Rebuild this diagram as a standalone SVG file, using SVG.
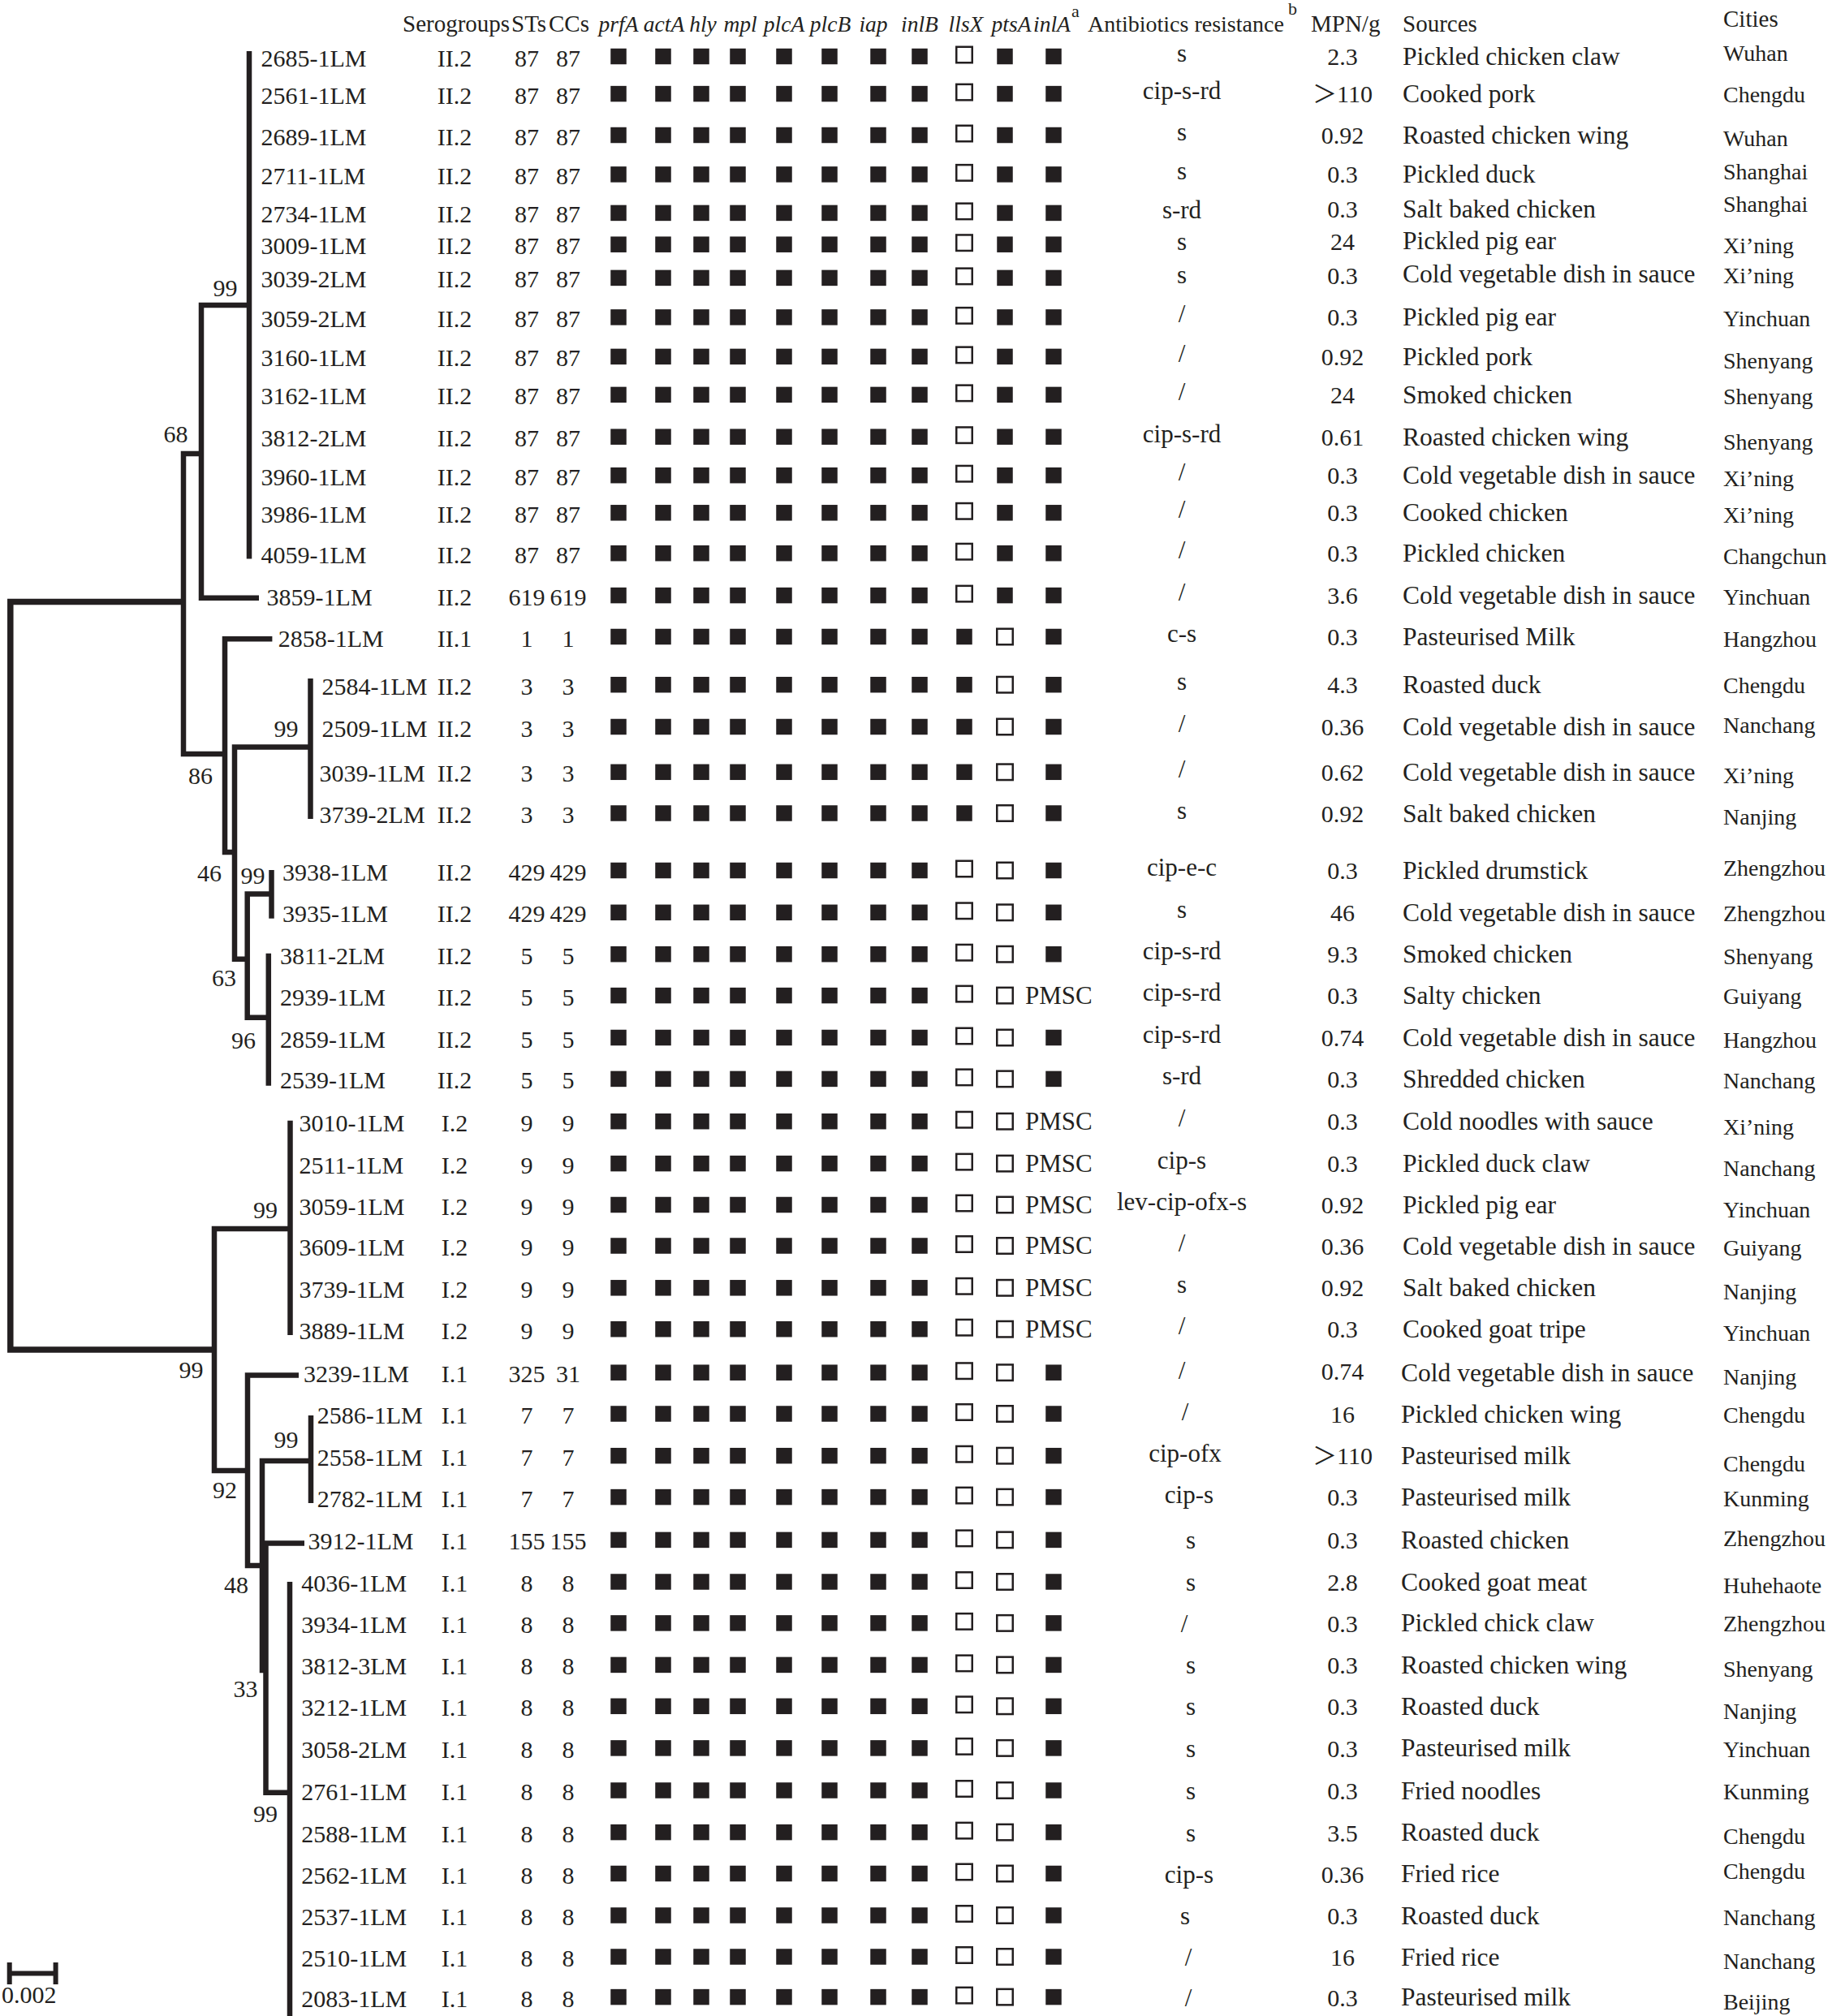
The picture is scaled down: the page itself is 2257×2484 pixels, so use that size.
<svg xmlns="http://www.w3.org/2000/svg" xmlns:xlink="http://www.w3.org/1999/xlink" width="2257" height="2484" viewBox="0 0 2257 2484">
<style>
text{font-family:"Liberation Serif","Times New Roman",serif;fill:#231f20;font-size:30px}
.m{text-anchor:middle}
.h{font-size:29px}
.gi{font-size:27.5px;font-style:italic;text-anchor:middle}
.sup{font-size:22px}
.src{font-size:31.5px}
.res{font-size:31px;text-anchor:middle}
.ct{font-size:28px}
.gt{font-family:"Liberation Serif","Noto Sans CJK SC",serif}
.br{fill:none;stroke:#231f20;stroke-width:6.5;stroke-linecap:butt;stroke-linejoin:miter}
.f{fill:#231f20}
.o{fill:none;stroke:#231f20;stroke-width:2.5}
</style>
<defs>
<g id="g8">
<rect class="f" x="752.25" y="-11.75" width="19.5" height="19.5"/>
<rect class="f" x="807.25" y="-11.75" width="19.5" height="19.5"/>
<rect class="f" x="854.25" y="-11.75" width="19.5" height="19.5"/>
<rect class="f" x="899.25" y="-11.75" width="19.5" height="19.5"/>
<rect class="f" x="956.25" y="-11.75" width="19.5" height="19.5"/>
<rect class="f" x="1012.25" y="-11.75" width="19.5" height="19.5"/>
<rect class="f" x="1072.25" y="-11.75" width="19.5" height="19.5"/>
<rect class="f" x="1123.25" y="-11.75" width="19.5" height="19.5"/>
</g>
<g id="pA"><use href="#g8"/><rect class="o" x="1178.25" y="-13.75" width="19.5" height="19.5"/><rect class="f" x="1228.25" y="-11.75" width="19.5" height="19.5"/><rect class="f" x="1288.25" y="-11.75" width="19.5" height="19.5"/></g>
<g id="pB"><use href="#g8"/><rect class="f" x="1178.25" y="-11.75" width="19.5" height="19.5"/><rect class="o" x="1228.25" y="-11.75" width="19.5" height="19.5"/><rect class="f" x="1288.25" y="-11.75" width="19.5" height="19.5"/></g>
<g id="pC"><use href="#g8"/><rect class="o" x="1178.25" y="-13.75" width="19.5" height="19.5"/><rect class="o" x="1228.25" y="-11.75" width="19.5" height="19.5"/><rect class="f" x="1288.25" y="-11.75" width="19.5" height="19.5"/></g>
<g id="pD"><use href="#g8"/><rect class="o" x="1178.25" y="-13.75" width="19.5" height="19.5"/><rect class="o" x="1228.25" y="-11.75" width="19.5" height="19.5"/><text x="1263" y="8" style="font-size:31px">PMSC</text></g>
</defs>
<rect width="2257" height="2484" fill="#ffffff"/>

<g id="header">
<text class="h" x="496" y="39">Serogroups</text>
<text class="h" x="630" y="39">STs</text>
<text class="h" x="676" y="39">CCs</text>
<text class="gi" x="762" y="39">prfA</text>
<text class="gi" x="818" y="39">actA</text>
<text class="gi" x="866" y="39">hly</text>
<text class="gi" x="912" y="39">mpl</text>
<text class="gi" x="966" y="39">plcA</text>
<text class="gi" x="1023" y="39">plcB</text>
<text class="gi" x="1076" y="39">iap</text>
<text class="gi" x="1133" y="39">inlB</text>
<text class="gi" x="1190" y="39">llsX</text>
<text class="gi" x="1246" y="39">ptsA</text>
<text class="gi" x="1296" y="39">inlA</text>
<text class="sup" x="1320" y="21">a</text>
<text class="h" x="1340" y="39" style="font-size:28px">Antibiotics resistance</text>
<text class="sup" x="1587" y="18">b</text>
<text class="h" x="1615" y="39">MPN/g</text>
<text class="h" x="1728" y="39">Sources</text>
<text class="h" x="2123" y="33">Cities</text>
</g>

<g id="connectors">
<path class="br" d="M226 741.5 H12.8 V1663 H264" style="stroke-width:7.5"/>
<path class="br" d="M248 559 H226 V929 H277"/>
<path class="br" d="M307 376 H248 V736.7 H319"/>
<path class="br" d="M307 63 V688.6"/>
<path class="br" d="M335.4 787.3 H277 V1050 H289"/>
<path class="br" d="M382.5 920.5 H289 V1181.8 H304.7"/>
<path class="br" d="M382.5 836 V1009"/>
<path class="br" d="M334.5 1101.6 H304.7 V1253.8 H330.8"/>
<path class="br" d="M334.5 1072 V1131.7"/>
<path class="br" d="M330.8 1174.8 V1337.7"/>
<path class="br" d="M357.5 1514 H264 V1812 H305"/>
<path class="br" d="M357.5 1380.8 V1645"/>
<path class="br" d="M368 1694.5 H305 V1929 H323"/>
<path class="br" d="M383 1800 H323 V2058 H327.5"/>
<path class="br" d="M383 1744 V1852"/>
<path class="br" d="M375 1901.4 H327.5 V2208.7 H357"/>
<path class="br" d="M357 1949 V2484"/>
</g>

<g id="bootstrap">
<text class="m" x="277.5" y="365">99</text>
<text class="m" x="216.5" y="545">68</text>
<text class="m" x="247" y="966">86</text>
<text class="m" x="352.5" y="908">99</text>
<text class="m" x="258" y="1086">46</text>
<text class="m" x="311.5" y="1089">99</text>
<text class="m" x="276" y="1215">63</text>
<text class="m" x="300" y="1292">96</text>
<text class="m" x="327" y="1501">99</text>
<text class="m" x="235.5" y="1698">99</text>
<text class="m" x="277" y="1846">92</text>
<text class="m" x="352.5" y="1784">99</text>
<text class="m" x="291" y="1963">48</text>
<text class="m" x="302.5" y="2091">33</text>
<text class="m" x="327" y="2245">99</text>
</g>

<g id="scale-bar">
<path class="br" d="M9 2431.5 H71 M11.7 2418 V2445 M68.6 2418 V2445" style="stroke-width:6"/>
<text x="2" y="2468">0.002</text>
</g>

<g id="row-2685-1LM" transform="translate(0,71.5)"><text x="321.4" y="10">2685-1LM</text><text class="m" x="560" y="10">II.2</text><text class="m" x="649" y="10">87</text><text class="m" x="700" y="10">87</text><use href="#pA"/><text class="res" x="1456" y="4.5">s</text><text class="m" x="1654" y="8.5">2.3</text><text class="src" x="1728" y="8.5">Pickled chicken claw</text><text class="ct" x="2123" y="3">Wuhan</text></g>
<g id="row-2561-1LM" transform="translate(0,117.6)"><text x="321.4" y="10">2561-1LM</text><text class="m" x="560" y="10">II.2</text><text class="m" x="649" y="10">87</text><text class="m" x="700" y="10">87</text><use href="#pA"/><text class="res" x="1456" y="4.5">cip-s-rd</text><text class="m gt" x="1654" y="8.5">＞110</text><text class="src" x="1728" y="8.5">Cooked pork</text><text class="ct" x="2123" y="8">Chengdu</text></g>
<g id="row-2689-1LM" transform="translate(0,168.5)"><text x="321.4" y="10">2689-1LM</text><text class="m" x="560" y="10">II.2</text><text class="m" x="649" y="10">87</text><text class="m" x="700" y="10">87</text><use href="#pA"/><text class="res" x="1456" y="4.5">s</text><text class="m" x="1654" y="8.5">0.92</text><text class="src" x="1728" y="8.5">Roasted chicken wing</text><text class="ct" x="2123" y="11">Wuhan</text></g>
<g id="row-2711-1LM" transform="translate(0,216.9)"><text x="321.4" y="10">2711-1LM</text><text class="m" x="560" y="10">II.2</text><text class="m" x="649" y="10">87</text><text class="m" x="700" y="10">87</text><use href="#pA"/><text class="res" x="1456" y="4.5">s</text><text class="m" x="1654" y="8.5">0.3</text><text class="src" x="1728" y="8.5">Pickled duck</text><text class="ct" x="2123" y="4">Shanghai</text></g>
<g id="row-2734-1LM" transform="translate(0,264.4)"><text x="321.4" y="10">2734-1LM</text><text class="m" x="560" y="10">II.2</text><text class="m" x="649" y="10">87</text><text class="m" x="700" y="10">87</text><use href="#pA"/><text class="res" x="1456" y="4.5">s-rd</text><text class="m" x="1654" y="4">0.3</text><text class="src" x="1728" y="4">Salt baked chicken</text><text class="ct" x="2123" y="-3">Shanghai</text></g>
<g id="row-3009-1LM" transform="translate(0,303.2)"><text x="321.4" y="10">3009-1LM</text><text class="m" x="560" y="10">II.2</text><text class="m" x="649" y="10">87</text><text class="m" x="700" y="10">87</text><use href="#pA"/><text class="res" x="1456" y="4.5">s</text><text class="m" x="1654" y="5">24</text><text class="src" x="1728" y="4">Pickled pig ear</text><text class="ct" x="2123" y="9">Xi’ning</text></g>
<g id="row-3039-2LM" transform="translate(0,344.4)"><text x="321.4" y="10">3039-2LM</text><text class="m" x="560" y="10">II.2</text><text class="m" x="649" y="10">87</text><text class="m" x="700" y="10">87</text><use href="#pA"/><text class="res" x="1456" y="4.5">s</text><text class="m" x="1654" y="6">0.3</text><text class="src" x="1728" y="4">Cold vegetable dish in sauce</text><text class="ct" x="2123" y="5">Xi’ning</text></g>
<g id="row-3059-2LM" transform="translate(0,392.9)"><text x="321.4" y="10">3059-2LM</text><text class="m" x="560" y="10">II.2</text><text class="m" x="649" y="10">87</text><text class="m" x="700" y="10">87</text><use href="#pA"/><text class="res" x="1456" y="4.5">/</text><text class="m" x="1654" y="8.5">0.3</text><text class="src" x="1728" y="8.5">Pickled pig ear</text><text class="ct" x="2123" y="9">Yinchuan</text></g>
<g id="row-3160-1LM" transform="translate(0,441.4)"><text x="321.4" y="10">3160-1LM</text><text class="m" x="560" y="10">II.2</text><text class="m" x="649" y="10">87</text><text class="m" x="700" y="10">87</text><use href="#pA"/><text class="res" x="1456" y="4.5">/</text><text class="m" x="1654" y="8.5">0.92</text><text class="src" x="1728" y="8.5">Pickled pork</text><text class="ct" x="2123" y="13">Shenyang</text></g>
<g id="row-3162-1LM" transform="translate(0,488.4)"><text x="321.4" y="10">3162-1LM</text><text class="m" x="560" y="10">II.2</text><text class="m" x="649" y="10">87</text><text class="m" x="700" y="10">87</text><use href="#pA"/><text class="res" x="1456" y="4.5">/</text><text class="m" x="1654" y="8.5">24</text><text class="src" x="1728" y="8.5">Smoked chicken</text><text class="ct" x="2123" y="10">Shenyang</text></g>
<g id="row-3812-2LM" transform="translate(0,540.2)"><text x="321.4" y="10">3812-2LM</text><text class="m" x="560" y="10">II.2</text><text class="m" x="649" y="10">87</text><text class="m" x="700" y="10">87</text><use href="#pA"/><text class="res" x="1456" y="4.5">cip-s-rd</text><text class="m" x="1654" y="8.5">0.61</text><text class="src" x="1728" y="8.5">Roasted chicken wing</text><text class="ct" x="2123" y="14">Shenyang</text></g>
<g id="row-3960-1LM" transform="translate(0,587.7)"><text x="321.4" y="10">3960-1LM</text><text class="m" x="560" y="10">II.2</text><text class="m" x="649" y="10">87</text><text class="m" x="700" y="10">87</text><use href="#pA"/><text class="res" x="1456" y="4.5">/</text><text class="m" x="1654" y="8.5">0.3</text><text class="src" x="1728" y="8.5">Cold vegetable dish in sauce</text><text class="ct" x="2123" y="11">Xi’ning</text></g>
<g id="row-3986-1LM" transform="translate(0,633.8)"><text x="321.4" y="10">3986-1LM</text><text class="m" x="560" y="10">II.2</text><text class="m" x="649" y="10">87</text><text class="m" x="700" y="10">87</text><use href="#pA"/><text class="res" x="1456" y="4.5">/</text><text class="m" x="1654" y="8.5">0.3</text><text class="src" x="1728" y="8.5">Cooked chicken</text><text class="ct" x="2123" y="10">Xi’ning</text></g>
<g id="row-4059-1LM" transform="translate(0,683.7)"><text x="321.4" y="10">4059-1LM</text><text class="m" x="560" y="10">II.2</text><text class="m" x="649" y="10">87</text><text class="m" x="700" y="10">87</text><use href="#pA"/><text class="res" x="1456" y="4.5">/</text><text class="m" x="1654" y="8.5">0.3</text><text class="src" x="1728" y="8.5">Pickled chicken</text><text class="ct" x="2123" y="11">Changchun</text></g>
<g id="row-3859-1LM" transform="translate(0,735.6)"><text x="328.6" y="10">3859-1LM</text><text class="m" x="560" y="10">II.2</text><text class="m" x="649" y="10">619</text><text class="m" x="700" y="10">619</text><use href="#pA"/><text class="res" x="1456" y="4.5">/</text><text class="m" x="1654" y="8.5">3.6</text><text class="src" x="1728" y="8.5">Cold vegetable dish in sauce</text><text class="ct" x="2123" y="9">Yinchuan</text></g>
<g id="row-2858-1LM" transform="translate(0,786.5)"><text x="342.7" y="10">2858-1LM</text><text class="m" x="560" y="10">II.1</text><text class="m" x="649" y="10">1</text><text class="m" x="700" y="10">1</text><use href="#pB"/><text class="res" x="1456" y="4.5">c-s</text><text class="m" x="1654" y="8.5">0.3</text><text class="src" x="1728" y="8.5">Pasteurised Milk</text><text class="ct" x="2123" y="10">Hangzhou</text></g>
<g id="row-2584-1LM" transform="translate(0,845.7)"><text x="396.5" y="10">2584-1LM</text><text class="m" x="560" y="10">II.2</text><text class="m" x="649" y="10">3</text><text class="m" x="700" y="10">3</text><use href="#pB"/><text class="res" x="1456" y="4.5">s</text><text class="m" x="1654" y="8.5">4.3</text><text class="src" x="1728" y="8.5">Roasted duck</text><text class="ct" x="2123" y="8">Chengdu</text></g>
<g id="row-2509-1LM" transform="translate(0,897.5)"><text x="396.5" y="10">2509-1LM</text><text class="m" x="560" y="10">II.2</text><text class="m" x="649" y="10">3</text><text class="m" x="700" y="10">3</text><use href="#pB"/><text class="res" x="1456" y="4.5">/</text><text class="m" x="1654" y="8.5">0.36</text><text class="src" x="1728" y="8.5">Cold vegetable dish in sauce</text><text class="ct" x="2123" y="5">Nanchang</text></g>
<g id="row-3039-1LM" transform="translate(0,953.3)"><text x="393.6" y="10">3039-1LM</text><text class="m" x="560" y="10">II.2</text><text class="m" x="649" y="10">3</text><text class="m" x="700" y="10">3</text><use href="#pB"/><text class="res" x="1456" y="4.5">/</text><text class="m" x="1654" y="8.5">0.62</text><text class="src" x="1728" y="8.5">Cold vegetable dish in sauce</text><text class="ct" x="2123" y="12">Xi’ning</text></g>
<g id="row-3739-2LM" transform="translate(0,1004)"><text x="393.6" y="10">3739-2LM</text><text class="m" x="560" y="10">II.2</text><text class="m" x="649" y="10">3</text><text class="m" x="700" y="10">3</text><use href="#pB"/><text class="res" x="1456" y="4.5">s</text><text class="m" x="1654" y="8.5">0.92</text><text class="src" x="1728" y="8.5">Salt baked chicken</text><text class="ct" x="2123" y="12">Nanjing</text></g>
<g id="row-3938-1LM" transform="translate(0,1074.5)"><text x="348" y="10">3938-1LM</text><text class="m" x="560" y="10">II.2</text><text class="m" x="649" y="10">429</text><text class="m" x="700" y="10">429</text><use href="#pC"/><text class="res" x="1456" y="4.5">cip-e-c</text><text class="m" x="1654" y="8.5">0.3</text><text class="src" x="1728" y="8.5">Pickled drumstick</text><text class="ct" x="2123" y="4">Zhengzhou</text></g>
<g id="row-3935-1LM" transform="translate(0,1126.3)"><text x="348" y="10">3935-1LM</text><text class="m" x="560" y="10">II.2</text><text class="m" x="649" y="10">429</text><text class="m" x="700" y="10">429</text><use href="#pC"/><text class="res" x="1456" y="4.5">s</text><text class="m" x="1654" y="8.5">46</text><text class="src" x="1728" y="8.5">Cold vegetable dish in sauce</text><text class="ct" x="2123" y="9">Zhengzhou</text></g>
<g id="row-3811-2LM" transform="translate(0,1177.7)"><text x="345" y="10">3811-2LM</text><text class="m" x="560" y="10">II.2</text><text class="m" x="649" y="10">5</text><text class="m" x="700" y="10">5</text><use href="#pC"/><text class="res" x="1456" y="4.5">cip-s-rd</text><text class="m" x="1654" y="8.5">9.3</text><text class="src" x="1728" y="8.5">Smoked chicken</text><text class="ct" x="2123" y="10">Shenyang</text></g>
<g id="row-2939-1LM" transform="translate(0,1228.6)"><text x="345" y="10">2939-1LM</text><text class="m" x="560" y="10">II.2</text><text class="m" x="649" y="10">5</text><text class="m" x="700" y="10">5</text><use href="#pD"/><text class="res" x="1456" y="4.5">cip-s-rd</text><text class="m" x="1654" y="8.5">0.3</text><text class="src" x="1728" y="8.5">Salty chicken</text><text class="ct" x="2123" y="8">Guiyang</text></g>
<g id="row-2859-1LM" transform="translate(0,1280.5)"><text x="345" y="10">2859-1LM</text><text class="m" x="560" y="10">II.2</text><text class="m" x="649" y="10">5</text><text class="m" x="700" y="10">5</text><use href="#pC"/><text class="res" x="1456" y="4.5">cip-s-rd</text><text class="m" x="1654" y="8.5">0.74</text><text class="src" x="1728" y="8.5">Cold vegetable dish in sauce</text><text class="ct" x="2123" y="10">Hangzhou</text></g>
<g id="row-2539-1LM" transform="translate(0,1331.4)"><text x="345" y="10">2539-1LM</text><text class="m" x="560" y="10">II.2</text><text class="m" x="649" y="10">5</text><text class="m" x="700" y="10">5</text><use href="#pC"/><text class="res" x="1456" y="4.5">s-rd</text><text class="m" x="1654" y="8.5">0.3</text><text class="src" x="1728" y="8.5">Shredded chicken</text><text class="ct" x="2123" y="10">Nanchang</text></g>
<g id="row-3010-1LM" transform="translate(0,1383.7)"><text x="368.4" y="10">3010-1LM</text><text class="m" x="560" y="10">I.2</text><text class="m" x="649" y="10">9</text><text class="m" x="700" y="10">9</text><use href="#pD"/><text class="res" x="1456" y="4.5">/</text><text class="m" x="1654" y="8.5">0.3</text><text class="src" x="1728" y="8.5">Cold noodles with sauce</text><text class="ct" x="2123" y="14">Xi’ning</text></g>
<g id="row-2511-1LM" transform="translate(0,1435.6)"><text x="368.4" y="10">2511-1LM</text><text class="m" x="560" y="10">I.2</text><text class="m" x="649" y="10">9</text><text class="m" x="700" y="10">9</text><use href="#pD"/><text class="res" x="1456" y="4.5">cip-s</text><text class="m" x="1654" y="8.5">0.3</text><text class="src" x="1728" y="8.5">Pickled duck claw</text><text class="ct" x="2123" y="13">Nanchang</text></g>
<g id="row-3059-1LM" transform="translate(0,1486.5)"><text x="368.4" y="10">3059-1LM</text><text class="m" x="560" y="10">I.2</text><text class="m" x="649" y="10">9</text><text class="m" x="700" y="10">9</text><use href="#pD"/><text class="res" x="1456" y="4.5">lev-cip-ofx-s</text><text class="m" x="1654" y="8.5">0.92</text><text class="src" x="1728" y="8.5">Pickled pig ear</text><text class="ct" x="2123" y="13">Yinchuan</text></g>
<g id="row-3609-1LM" transform="translate(0,1537)"><text x="368.4" y="10">3609-1LM</text><text class="m" x="560" y="10">I.2</text><text class="m" x="649" y="10">9</text><text class="m" x="700" y="10">9</text><use href="#pD"/><text class="res" x="1456" y="4.5">/</text><text class="m" x="1654" y="8.5">0.36</text><text class="src" x="1728" y="8.5">Cold vegetable dish in sauce</text><text class="ct" x="2123" y="10">Guiyang</text></g>
<g id="row-3739-1LM" transform="translate(0,1588.8)"><text x="368.4" y="10">3739-1LM</text><text class="m" x="560" y="10">I.2</text><text class="m" x="649" y="10">9</text><text class="m" x="700" y="10">9</text><use href="#pD"/><text class="res" x="1456" y="4.5">s</text><text class="m" x="1654" y="8.5">0.92</text><text class="src" x="1728" y="8.5">Salt baked chicken</text><text class="ct" x="2123" y="12">Nanjing</text></g>
<g id="row-3889-1LM" transform="translate(0,1639.7)"><text x="368.4" y="10">3889-1LM</text><text class="m" x="560" y="10">I.2</text><text class="m" x="649" y="10">9</text><text class="m" x="700" y="10">9</text><use href="#pD"/><text class="res" x="1456" y="4.5">/</text><text class="m" x="1654" y="8.5">0.3</text><text class="src" x="1728" y="8.5">Cooked goat tripe</text><text class="ct" x="2123" y="12">Yinchuan</text></g>
<g id="row-3239-1LM" transform="translate(0,1693.2)"><text x="374" y="10">3239-1LM</text><text class="m" x="560" y="10">I.1</text><text class="m" x="649" y="10">325</text><text class="m" x="700" y="10">31</text><use href="#pC"/><text class="res" x="1456" y="6">/</text><text class="m" x="1654" y="7">0.74</text><text class="src" x="1726" y="8.5">Cold vegetable dish in sauce</text><text class="ct" x="2123" y="13">Nanjing</text></g>
<g id="row-2586-1LM" transform="translate(0,1744)"><text x="390.7" y="10">2586-1LM</text><text class="m" x="560" y="10">I.1</text><text class="m" x="649" y="10">7</text><text class="m" x="700" y="10">7</text><use href="#pC"/><text class="res" x="1460" y="6">/</text><text class="m" x="1654" y="8.5">16</text><text class="src" x="1726" y="8.5">Pickled chicken wing</text><text class="ct" x="2123" y="9">Chengdu</text></g>
<g id="row-2558-1LM" transform="translate(0,1795.7)"><text x="390.7" y="10">2558-1LM</text><text class="m" x="560" y="10">I.1</text><text class="m" x="649" y="10">7</text><text class="m" x="700" y="10">7</text><use href="#pC"/><text class="res" x="1460" y="5">cip-ofx</text><text class="m gt" x="1654" y="8">＞110</text><text class="src" x="1726" y="8.5">Pasteurised milk</text><text class="ct" x="2123" y="17">Chengdu</text></g>
<g id="row-2782-1LM" transform="translate(0,1846.6)"><text x="390.7" y="10">2782-1LM</text><text class="m" x="560" y="10">I.1</text><text class="m" x="649" y="10">7</text><text class="m" x="700" y="10">7</text><use href="#pC"/><text class="res" x="1465" y="5">cip-s</text><text class="m" x="1654" y="8">0.3</text><text class="src" x="1726" y="8.5">Pasteurised milk</text><text class="ct" x="2123" y="9">Kunming</text></g>
<g id="row-3912-1LM" transform="translate(0,1899.4)"><text x="379.5" y="10">3912-1LM</text><text class="m" x="560" y="10">I.1</text><text class="m" x="649" y="10">155</text><text class="m" x="700" y="10">155</text><use href="#pC"/><text class="res" x="1467" y="9">s</text><text class="m" x="1654" y="9">0.3</text><text class="src" x="1726" y="8.5">Roasted chicken</text><text class="ct" x="2123" y="6">Zhengzhou</text></g>
<g id="row-4036-1LM" transform="translate(0,1951)"><text x="371.3" y="10">4036-1LM</text><text class="m" x="560" y="10">I.1</text><text class="m" x="649" y="10">8</text><text class="m" x="700" y="10">8</text><use href="#pC"/><text class="res" x="1467" y="9">s</text><text class="m" x="1654" y="9">2.8</text><text class="src" x="1726" y="8.5">Cooked goat meat</text><text class="ct" x="2123" y="12">Huhehaote</text></g>
<g id="row-3934-1LM" transform="translate(0,2001.9)"><text x="371.3" y="10">3934-1LM</text><text class="m" x="560" y="10">I.1</text><text class="m" x="649" y="10">8</text><text class="m" x="700" y="10">8</text><use href="#pC"/><text class="res" x="1459" y="9">/</text><text class="m" x="1654" y="9">0.3</text><text class="src" x="1726" y="8.5">Pickled chick claw</text><text class="ct" x="2123" y="8">Zhengzhou</text></g>
<g id="row-3812-3LM" transform="translate(0,2053.4)"><text x="371.3" y="10">3812-3LM</text><text class="m" x="560" y="10">I.1</text><text class="m" x="649" y="10">8</text><text class="m" x="700" y="10">8</text><use href="#pC"/><text class="res" x="1467" y="9">s</text><text class="m" x="1654" y="9">0.3</text><text class="src" x="1726" y="8.5">Roasted chicken wing</text><text class="ct" x="2123" y="13">Shenyang</text></g>
<g id="row-3212-1LM" transform="translate(0,2104.3)"><text x="371.3" y="10">3212-1LM</text><text class="m" x="560" y="10">I.1</text><text class="m" x="649" y="10">8</text><text class="m" x="700" y="10">8</text><use href="#pC"/><text class="res" x="1467" y="9">s</text><text class="m" x="1654" y="9">0.3</text><text class="src" x="1726" y="8.5">Roasted duck</text><text class="ct" x="2123" y="14">Nanjing</text></g>
<g id="row-3058-2LM" transform="translate(0,2155.9)"><text x="371.3" y="10">3058-2LM</text><text class="m" x="560" y="10">I.1</text><text class="m" x="649" y="10">8</text><text class="m" x="700" y="10">8</text><use href="#pC"/><text class="res" x="1467" y="9">s</text><text class="m" x="1654" y="9">0.3</text><text class="src" x="1726" y="8.5">Pasteurised milk</text><text class="ct" x="2123" y="9">Yinchuan</text></g>
<g id="row-2761-1LM" transform="translate(0,2208)"><text x="371.3" y="10">2761-1LM</text><text class="m" x="560" y="10">I.1</text><text class="m" x="649" y="10">8</text><text class="m" x="700" y="10">8</text><use href="#pC"/><text class="res" x="1467" y="9">s</text><text class="m" x="1654" y="9">0.3</text><text class="src" x="1726" y="8.5">Fried noodles</text><text class="ct" x="2123" y="9">Kunming</text></g>
<g id="row-2588-1LM" transform="translate(0,2259.6)"><text x="371.3" y="10">2588-1LM</text><text class="m" x="560" y="10">I.1</text><text class="m" x="649" y="10">8</text><text class="m" x="700" y="10">8</text><use href="#pC"/><text class="res" x="1467" y="9">s</text><text class="m" x="1654" y="9">3.5</text><text class="src" x="1726" y="8.5">Roasted duck</text><text class="ct" x="2123" y="12">Chengdu</text></g>
<g id="row-2562-1LM" transform="translate(0,2310.5)"><text x="371.3" y="10">2562-1LM</text><text class="m" x="560" y="10">I.1</text><text class="m" x="649" y="10">8</text><text class="m" x="700" y="10">8</text><use href="#pC"/><text class="res" x="1465" y="9">cip-s</text><text class="m" x="1654" y="9">0.36</text><text class="src" x="1726" y="8.5">Fried rice</text><text class="ct" x="2123" y="4">Chengdu</text></g>
<g id="row-2537-1LM" transform="translate(0,2362)"><text x="371.3" y="10">2537-1LM</text><text class="m" x="560" y="10">I.1</text><text class="m" x="649" y="10">8</text><text class="m" x="700" y="10">8</text><use href="#pC"/><text class="res" x="1460" y="9">s</text><text class="m" x="1654" y="9">0.3</text><text class="src" x="1726" y="8.5">Roasted duck</text><text class="ct" x="2123" y="10">Nanchang</text></g>
<g id="row-2510-1LM" transform="translate(0,2413)"><text x="371.3" y="10">2510-1LM</text><text class="m" x="560" y="10">I.1</text><text class="m" x="649" y="10">8</text><text class="m" x="700" y="10">8</text><use href="#pC"/><text class="res" x="1464" y="9">/</text><text class="m" x="1654" y="9">16</text><text class="src" x="1726" y="8.5">Fried rice</text><text class="ct" x="2123" y="13">Nanchang</text></g>
<g id="row-2083-1LM" transform="translate(0,2462.6)"><text x="371.3" y="10">2083-1LM</text><text class="m" x="560" y="10">I.1</text><text class="m" x="649" y="10">8</text><text class="m" x="700" y="10">8</text><use href="#pC"/><text class="res" x="1464" y="9">/</text><text class="m" x="1654" y="9">0.3</text><text class="src" x="1726" y="8.5">Pasteurised milk</text><text class="ct" x="2123" y="13">Beijing</text></g>
</svg>
